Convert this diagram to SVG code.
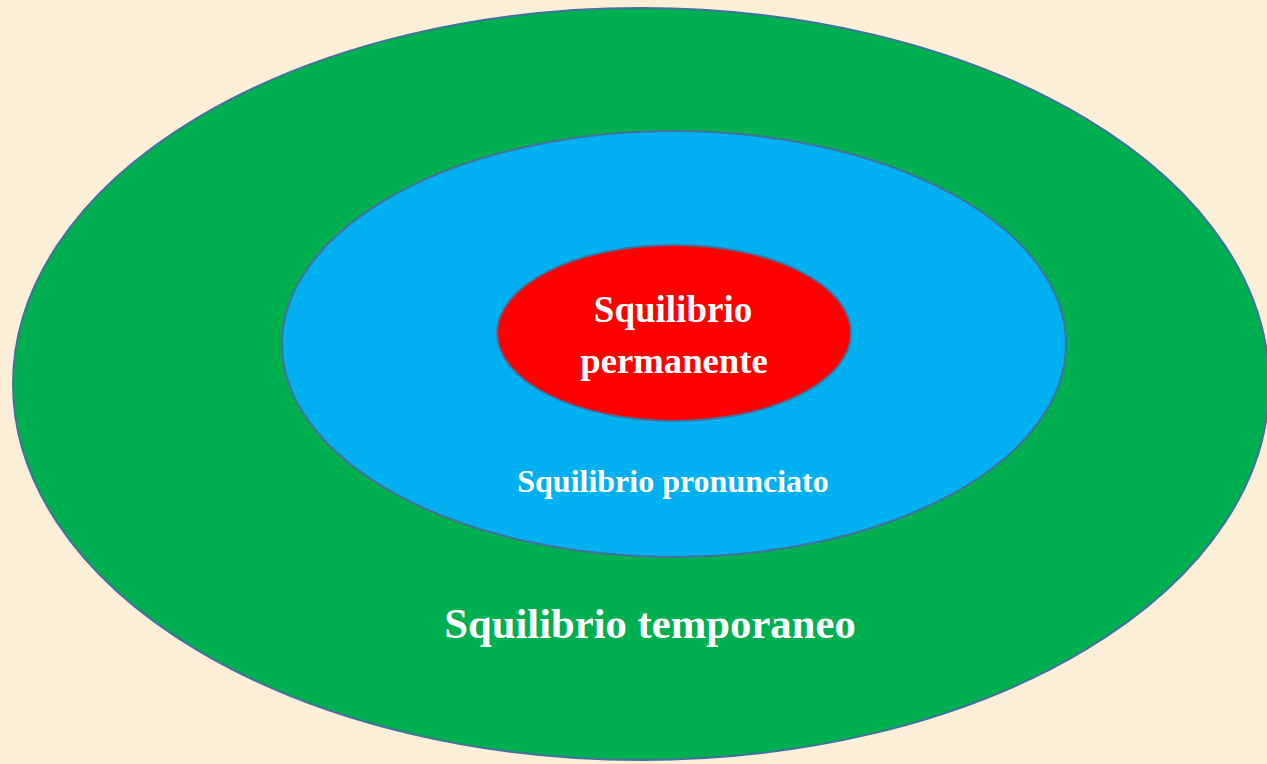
<svg xmlns="http://www.w3.org/2000/svg" width="1267" height="764" viewBox="0 0 1267 764">
<style>
.ring{stroke:#41719C;stroke-width:2}
.t{font-family:"Liberation Serif",serif;font-weight:bold;fill:#FFFFFF;text-anchor:middle}
</style>
<rect width="1267" height="764" fill="#FBEFD7"/>
<g id="temporaneo">
<ellipse class="ring" cx="641" cy="384" rx="628" ry="376" fill="#00B050"/>
<text class="t" x="650" y="638" font-size="42.7">Squilibrio temporaneo</text>
</g>
<g id="pronunciato">
<ellipse class="ring" cx="674" cy="344" rx="392" ry="213" fill="#00B0F0"/>
<text class="t" x="673" y="492" font-size="32">Squilibrio pronunciato</text>
</g>
<g id="permanente">
<ellipse class="ring" cx="674" cy="333" rx="177" ry="88" fill="#FF0000"/>
<text class="t" x="673" y="322" font-size="37">Squilibrio</text>
<text class="t" x="674" y="373" font-size="36.7">permanente</text>
</g>
<g id="connectors"></g>
</svg>
